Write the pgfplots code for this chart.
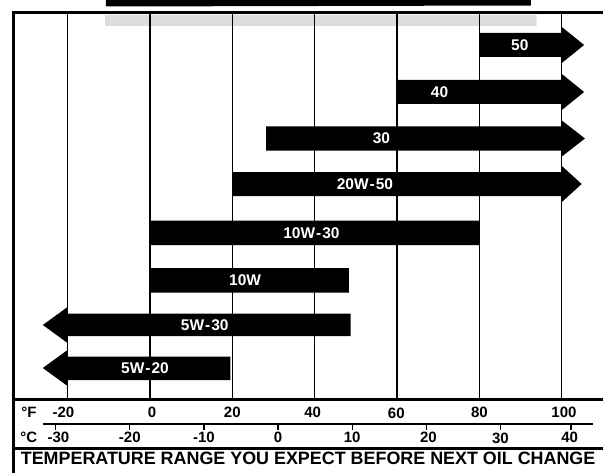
\documentclass[border=0pt]{standalone}
\usepackage{pgfplots}
\pgfplotsset{compat=1.18}
\usepackage{fontspec}
\setmainfont{Liberation Sans}
\definecolor{lightbar}{HTML}{DCDCDC}
\begin{document}
\begin{tikzpicture}
\begin{axis}[scale only axis, width=608pt, height=475pt,
  xmin=-36.4, xmax=111.2, ymin=0, ymax=475, hide axis, clip=false]
\path (rel axis cs:0,0) rectangle (rel axis cs:1,1);
% top decorations
\addplot[fill=black, draw=none] coordinates {(-10.7,475) (92.5,475) (92.5,469.5) (-10.7,468.5) (-10.7,475)};
\addplot[fill=lightbar, draw=none] coordinates {(-10.9,460) (93.9,460) (93.9,449) (-10.9,449) (-10.9,460)};
% grid lines (deg F)
\pgfplotsinvokeforeach{-20,0,20,40,60,80,100}{
  \addplot[black, line width=1.2pt] coordinates {(#1,462.3) (#1,75.5)};
}
% frame
\addplot[black, line width=2.6pt] coordinates {(-33.2,462.3) (110,462.3)};
\addplot[black, line width=3pt] coordinates {(-33.2,463.5) (-33.2,2)};
\addplot[black, line width=3pt] coordinates {(-33.2,75.5) (110,75.5)};
\addplot[black, line width=1.4pt] coordinates {(-26,51) (107.5,51)};
\addplot[black, line width=3pt] coordinates {(-33.2,27) (110,27)};
% C ticks
\pgfplotsinvokeforeach{-22.9,-4.9,13.1,31.1,49.1,67.1,85.1,102.2}{
  \addplot[black, line width=1.2pt] coordinates {(#1,51) (#1,45)};
}
% bars: right arrows
\addplot[fill=black, draw=none] coordinates {(80,418) (100,418) (100,412) (105.4,430) (100,448) (100,442) (80,442) (80,418)};
\addplot[fill=black, draw=none] coordinates {(60,371) (100,371) (100,365) (105.4,383) (100,401) (100,395) (60,395) (60,371)};
\addplot[fill=black, draw=none] coordinates {(28.2,324.5) (100,324.5) (100,318.5) (105.6,336.5) (100,354.5) (100,348.5) (28.2,348.5) (28.2,324.5)};
\addplot[fill=black, draw=none] coordinates {(20,279) (100,279) (100,273) (104.8,291) (100,309) (100,303) (20,303) (20,279)};
% plain bars
\addplot[fill=black, draw=none] coordinates {(0,230) (80,230) (80,254.3) (0,254.3) (0,230)};
\addplot[fill=black, draw=none] coordinates {(0,182.3) (48.3,182.3) (48.3,207) (0,207) (0,182.3)};
% left arrows
\addplot[fill=black, draw=none] coordinates {(-26,150) (-20,168) (-20,161.5) (48.7,161.5) (48.7,139) (-20,139) (-20,132) (-26,150)};
\addplot[fill=black, draw=none] coordinates {(-26,107) (-20,125) (-20,118.3) (19.5,118.3) (19.5,95) (-20,95) (-20,89) (-26,107)};
% bar labels
\begin{scope}[every node/.style={text=white, font=\fontsize{15.5}{17}\selectfont\bfseries, inner sep=0pt}]
\node at (axis cs:89.8,430) {50};
\node at (axis cs:70.3,383) {40};
\node at (axis cs:56.2,336.5) {30};
\node at (axis cs:52.2,291) {20W\kern1pt-\kern1pt50};
\node at (axis cs:39.2,242) {10W\kern1pt-\kern1pt30};
\node at (axis cs:23.1,194.7) {10W};
\node at (axis cs:13.3,150) {5W\kern1pt-\kern1pt30};
\node at (axis cs:-1.2,106.7) {5W\kern1pt-\kern1pt20};
\end{scope}
% scale labels
\begin{scope}[every node/.style={text=black, font=\fontsize{15}{17}\selectfont\bfseries, inner sep=0pt}]
\node at (axis cs:-29.4,63) {°F};
\node at (axis cs:-29.4,38) {°C};
\node at (axis cs:-21,63) {-20};
\node at (axis cs:0.5,63) {0};
\node at (axis cs:20,63) {20};
\node at (axis cs:39.5,63) {40};
\node at (axis cs:59.8,62) {60};
\node at (axis cs:80,63) {80};
\node at (axis cs:100.5,63) {100};
\node at (axis cs:-22.2,38) {-30};
\node at (axis cs:-4.9,38) {-20};
\node at (axis cs:13.1,38) {-10};
\node at (axis cs:31.1,38) {0};
\node at (axis cs:49.1,38) {10};
\node at (axis cs:67.6,38) {20};
\node at (axis cs:85.1,37) {30};
\node at (axis cs:101.9,38) {40};
\end{scope}
\node[font=\fontsize{17.9}{20}\selectfont\bfseries, inner sep=0pt] at (axis cs:38.4,17) {TEMPERATURE RANGE YOU EXPECT BEFORE NEXT OIL CHANGE};
\end{axis}
\end{tikzpicture}
\end{document}
